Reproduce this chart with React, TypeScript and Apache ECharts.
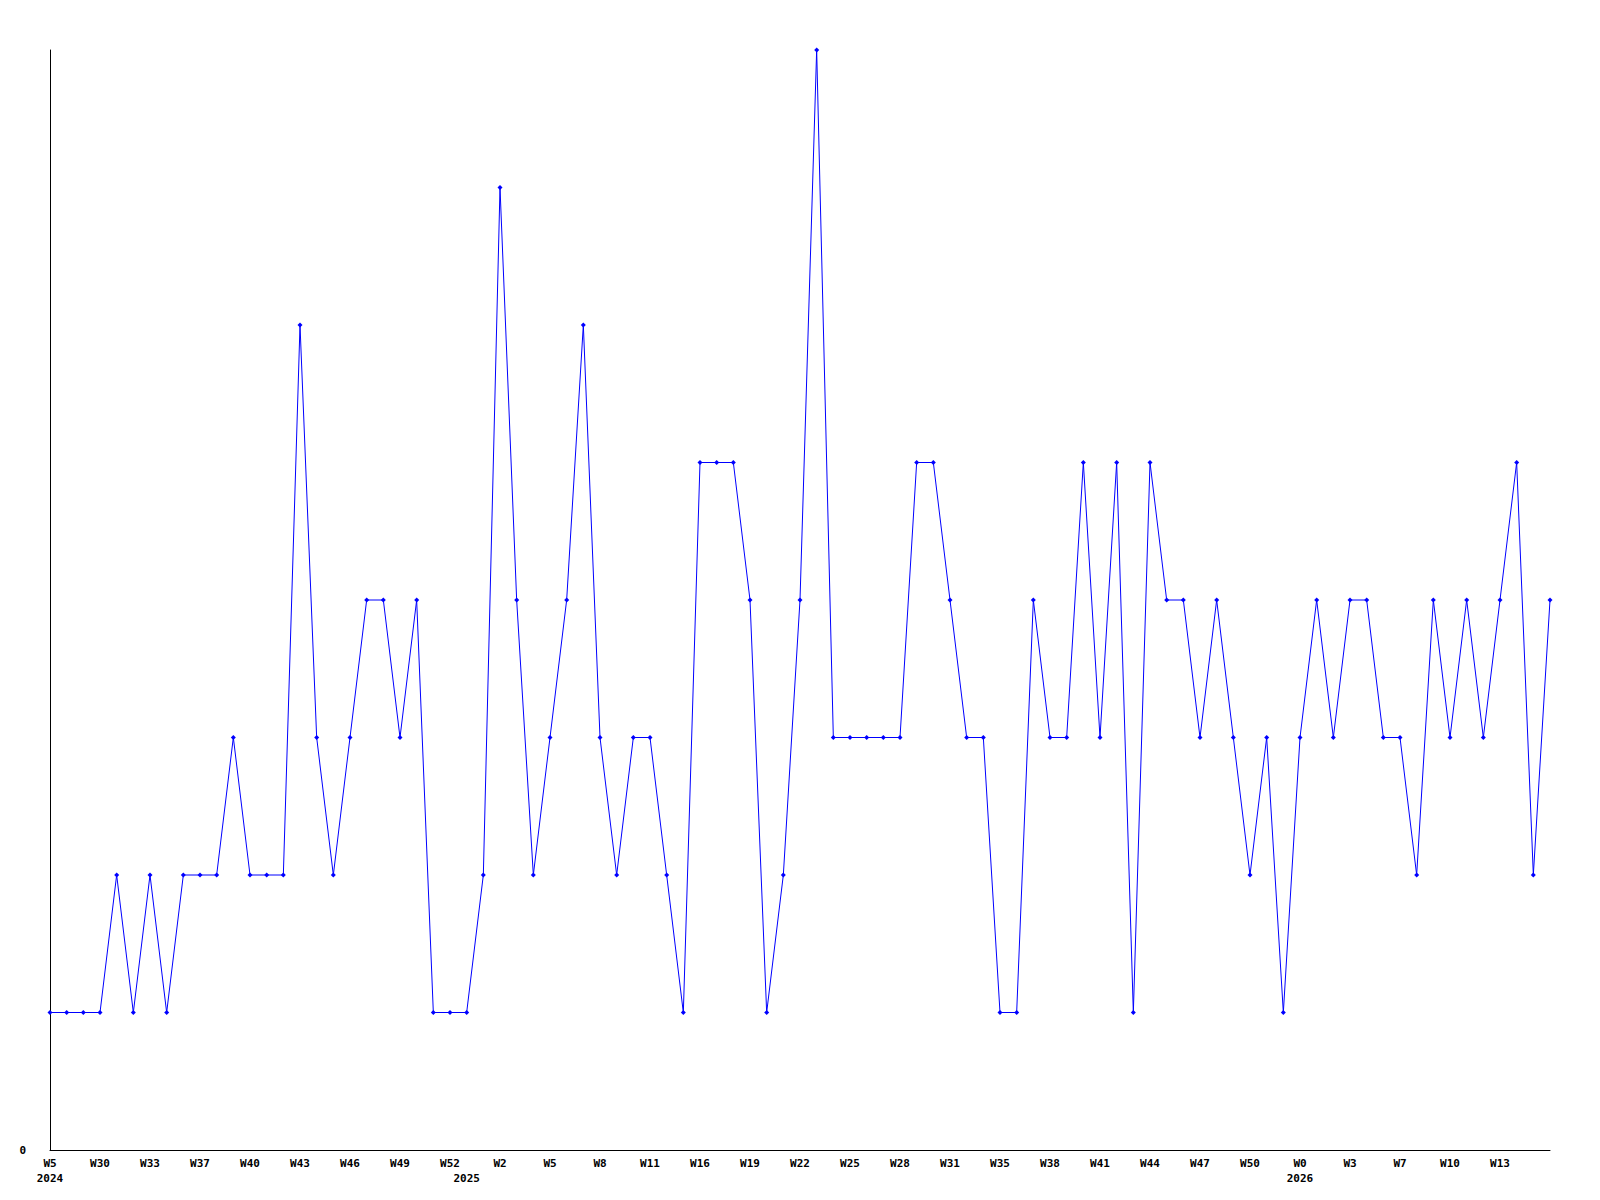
import React, { useEffect, useRef } from "react";
import * as echarts from "echarts";

const weeks = [
  "W5", "W28", "W29", "W30", "W31", "W32", "W33", "W34", "W35", "W37",
  "W38", "W39", "W40", "W41", "W42", "W43", "W44", "W45", "W46", "W47",
  "W48", "W49", "W50", "W51", "W52", "W0", "W1", "W2", "W3", "W4",
  "W5", "W6", "W7", "W8", "W9", "W10", "W11", "W12", "W15", "W16",
  "W17", "W18", "W19", "W20", "W21", "W22", "W23", "W24", "W25", "W26",
  "W27", "W28", "W29", "W30", "W31", "W32", "W33", "W35", "W36", "W37",
  "W38", "W39", "W40", "W41", "W42", "W43", "W44", "W45", "W46", "W47",
  "W48", "W49", "W50", "W51", "W52", "W0", "W1", "W2", "W3", "W4",
  "W5", "W7", "W8", "W9", "W10", "W11", "W12", "W13", "W14", "W15",
  "W16",
];

const values = [
  1, 1, 1, 1, 2, 1, 2, 1, 2, 2,
  2, 3, 2, 2, 2, 6, 3, 2, 3, 4,
  4, 3, 4, 1, 1, 1, 2, 7, 4, 2,
  3, 4, 6, 3, 2, 3, 3, 2, 1, 5,
  5, 5, 4, 1, 2, 4, 8, 3, 3, 3,
  3, 3, 5, 5, 4, 3, 3, 1, 1, 4,
  3, 3, 5, 3, 5, 1, 5, 4, 4, 3,
  4, 3, 2, 3, 1, 3, 4, 3, 4, 4,
  3, 3, 2, 4, 3, 4, 3, 4, 5, 2,
  4,
];

const yearStartIndex = [0, 25, 75];
const yearNames = ["2024", "2025", "2026"];

export default function App() {
  const ref = useRef<HTMLDivElement>(null);
  useEffect(() => {
    document.body.style.margin = "0";
    if (!ref.current) return;
    const chart = echarts.init(ref.current, null, { renderer: "svg" });
    const yearRow = weeks.map((_, i) => {
      const k = yearStartIndex.indexOf(i);
      return k >= 0 ? yearNames[k] : "";
    });
    const lastIdx = weeks.length - 1;
    const font = {
      fontFamily: "DejaVu Sans Mono",
      fontWeight: "bold" as const,
      fontSize: 11,
      color: "#000",
    };
    chart.setOption({
      animation: false,
      backgroundColor: "#fff",
      grid: { left: 50, right: 50, top: 50, bottom: 50, containLabel: false },
      xAxis: [
        {
          type: "category",
          data: weeks,
          boundaryGap: false,
          axisLine: { show: true, lineStyle: { color: "#000", width: 1 } },
          axisTick: { show: false },
          splitLine: { show: false },
          axisLabel: {
            ...font,
            interval: (i: number) => i % 3 === 0 && i < lastIdx,
            margin: 8,
          },
        },
        {
          type: "category",
          data: yearRow,
          boundaryGap: false,
          position: "bottom",
          offset: 15,
          axisLine: { show: false },
          axisTick: { show: false },
          splitLine: { show: false },
          axisLabel: { ...font, interval: 0, margin: 8 },
        },
      ],
      yAxis: {
        type: "value",
        min: 0,
        max: 8,
        interval: 1,
        axisLine: { show: true, lineStyle: { color: "#000", width: 1 } },
        axisTick: { show: false },
        splitLine: { show: false },
        axisLabel: {
          ...font,
          margin: 24,
          formatter: (v: number) => (v === 0 ? "0" : ""),
        },
      },
      series: [
        {
          type: "line",
          xAxisIndex: 0,
          data: values,
          symbol: "diamond",
          symbolSize: 5,
          showAllSymbol: true,
          lineStyle: { color: "#0000ff", width: 1 },
          itemStyle: { color: "#0000ff" },
        },
      ],
    });
    return () => chart.dispose();
  }, []);
  return <div ref={ref} style={{ width: 1600, height: 1200 }} />;
}
